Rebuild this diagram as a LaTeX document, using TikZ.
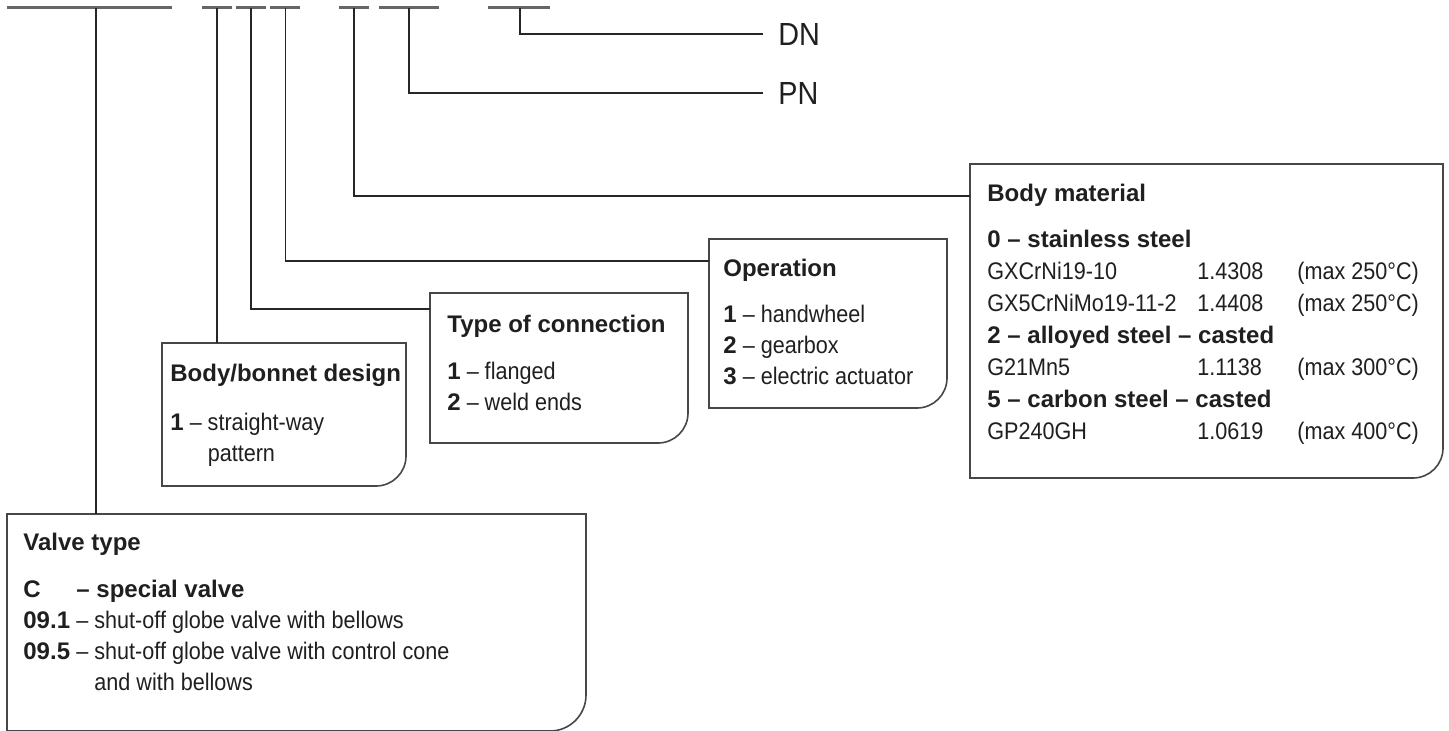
\documentclass[tikz,border=0pt]{standalone}
\usepackage{fontspec}
\setmainfont{Liberation Sans}[UprightFeatures={FakeStretch=0.9}]
\usetikzlibrary{calc}
\tikzset{
  codebar/.style={draw=black!60,line width=1.1pt},
  lead/.style={draw=black!85,line width=0.6pt},
  keyline/.style={draw=black!72,line width=0.8pt},
  keybox/.style={inner sep=0,outer sep=0,anchor=north west},
  keyhead/.style={anchor=base west,inner sep=0,text=black!88,font=\fontsize{12}{15.5}\selectfont\bfseries},
  keyitems/.style={anchor=base west,inner sep=0,text=black!88,font=\fontsize{12}{15.5}\selectfont},
  codelabel/.style={anchor=west,inner xsep=7.5pt,inner ysep=0,text=black!88,font=\fontsize{16}{18}\selectfont}
}
\newcommand{\keyhead}{\node[keyhead]}
\newcommand{\keyitems}{\node[keyitems]}
% box with one rounded corner (bottom right)
\newcommand{\drawkey}[2][15pt]{\draw[keyline] (#2.north west) -- (#2.north east) -- ([yshift=#1]#2.south east) arc[start angle=0,end angle=-90,radius=#1] -- (#2.south west) -- cycle;}

\begin{document}
\begin{tikzpicture}[x=0.5pt,y=-0.5pt]
	\useasboundingbox (0,0) rectangle (1449,730);
	
	% code positions
	\foreach \i/\a/\b/\x in {1/7/172/96, 2/202/232/217, 3/236/266/251, 4/270/300/285.5, 5/339/369/354, 6/379/439/409, 7/488/550/520}{
		\coordinate (s\i) at (\a,7.5);
		\coordinate (e\i) at (\b,7.5);
		\coordinate (t\i) at (\x,7.5);
		\draw[codebar] (s\i) -- (e\i);
	}
	
	\node[codelabel] (dn) at (763,34) {DN};
	\node[codelabel] (pn) at (763,93) {PN};
	
	\node[keybox,minimum width=236.5pt,minimum height=157pt] (mat) at (970,164) {};
	\node[keybox,minimum width=119pt,minimum height=84.5pt] (op) at (709,239) {};
	\node[keybox,minimum width=129pt,minimum height=75pt] (con) at (430,293) {};
	\node[keybox,minimum width=122pt,minimum height=71.5pt] (bb) at (162,343) {};
	\node[keybox,minimum width=289.5pt,minimum height=108.5pt] (vt) at (7,514) {};
	
	\drawkey{mat}
	\drawkey{op}
	\drawkey{con}
	\drawkey{bb}
	\drawkey[18pt]{vt}
	
	\draw[lead] (t7) |- (dn.west);
	\draw[lead] (t6) |- (pn.west);
	\draw[lead] (t5) |- ([yshift=-16pt]mat.north west);
	\draw[lead] (t4) |- ([yshift=-11pt]op.north west);
	\draw[lead] (t3) |- ([yshift=-8pt]con.north west);
	\draw[lead] (t2) -- (t2 |- bb.north);
	\draw[lead] (t1) -- (t1 |- vt.north);
	
	\keyhead (mat-h) at ($(mat.north west)+(17,37)$) {Body material};
	\keyitems[font=\fontsize{12}{16}\selectfont] (mat-i) at ($(mat.north west)+(17,83)$) {%
		\begin{tabular}[t]{@{}p{105pt}@{}p{50pt}@{}l@{}}
			\multicolumn{3}{@{}l@{}}{\bfseries 0 – stainless steel}\\
			GXCrNi19-10 & 1.4308 & (max 250°C)\\
			GX5CrNiMo19-11-2 & 1.4408 & (max 250°C)\\
			\multicolumn{3}{@{}l@{}}{\bfseries 2 – alloyed steel – casted}\\
			G21Mn5 & 1.1138 & (max 300°C)\\
			\multicolumn{3}{@{}l@{}}{\bfseries 5 – carbon steel – casted}\\
			GP240GH & 1.0619 & (max 400°C)
		\end{tabular}};
	
	\keyhead (op-h) at ($(op.north west)+(14,37)$) {Operation};
	\keyitems (op-i) at ($(op.north west)+(14,83)$) {%
		\begin{tabular}[t]{@{}l@{}}
			\textbf{1} – handwheel\\
			\textbf{2} – gearbox\\
			\textbf{3} – electric actuator
		\end{tabular}};
	
	\keyhead (con-h) at ($(con.north west)+(17,39)$) {Type of connection};
	\keyitems (con-i) at ($(con.north west)+(17,86)$) {%
		\begin{tabular}[t]{@{}l@{}}
			\textbf{1} – flanged\\
			\textbf{2} – weld ends
		\end{tabular}};
	
	\keyhead (bb-h) at ($(bb.north west)+(8,38)$) {Body/bonnet design};
	\keyitems (bb-i) at ($(bb.north west)+(8,87)$) {%
		\begin{tabular}[t]{@{}l@{}}
			\textbf{1} – straight-way\\
			\hphantom{\textbf{1} – }pattern
		\end{tabular}};
	
	\keyhead (vt-h) at ($(vt.north west)+(16,36)$) {Valve type};
	\keyitems (vt-i) at ($(vt.north west)+(16,83)$) {%
		\begin{tabular}[t]{@{}l@{}}
			\makebox[26.5pt][l]{\bfseries C}\textbf{– special valve}\\
			\makebox[26.5pt][l]{\bfseries 09.1}– shut-off globe valve with bellows\\
			\makebox[26.5pt][l]{\bfseries 09.5}– shut-off globe valve with control cone\\
			\hspace*{26.5pt}\hphantom{– }and with bellows
		\end{tabular}};
	
\end{tikzpicture}
\end{document}
